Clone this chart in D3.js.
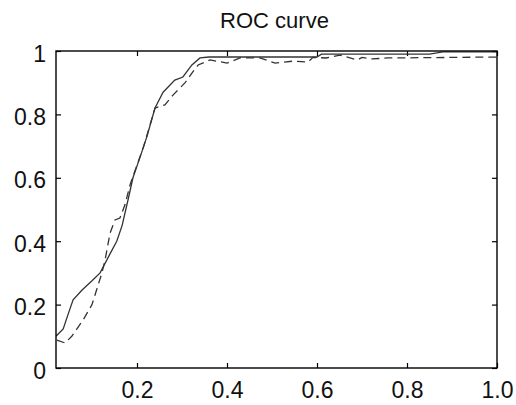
<!DOCTYPE html>
<html>
<head>
<meta charset="utf-8">
<script src="https://cdn.jsdelivr.net/npm/d3@7"></script>
<style>
  body { margin: 0; background: #fff; }
  text { font-family: "Liberation Sans", Arial, sans-serif; }
</style>
</head>
<body>
<script>
let width = 516,
    height = 405;

let margin = { top: 51, bottom: 37, left: 56, right: 19 };

// solid curve
let solidFpr = [0.02, 0.036, 0.047, 0.058, 0.078, 0.10, 0.118, 0.14, 0.155, 0.167, 0.18, 0.191, 0.207, 0.222, 0.24, 0.258, 0.284, 0.302, 0.322, 0.34, 0.36, 0.60, 0.61, 0.85, 0.88, 1.0];
let solidTpr = [0.10, 0.123, 0.17, 0.215, 0.246, 0.275, 0.30, 0.36, 0.40, 0.45, 0.53, 0.60, 0.666, 0.73, 0.82, 0.87, 0.908, 0.918, 0.956, 0.978, 0.981, 0.981, 0.99, 0.99, 0.997, 0.997];

// dashed curve
let dashFpr = [0.022, 0.04, 0.055, 0.08, 0.10, 0.111, 0.122, 0.129, 0.14, 0.151, 0.162, 0.173, 0.185, 0.20, 0.215, 0.24, 0.262, 0.28, 0.307, 0.324, 0.336, 0.362, 0.40, 0.429, 0.473, 0.507, 0.547, 0.58, 0.591, 0.62, 0.651, 0.69, 0.70, 0.722, 0.758, 1.0];
let dashTpr = [0.088, 0.079, 0.10, 0.151, 0.20, 0.25, 0.30, 0.34, 0.425, 0.467, 0.473, 0.514, 0.58, 0.64, 0.70, 0.82, 0.83, 0.861, 0.90, 0.934, 0.956, 0.972, 0.962, 0.978, 0.978, 0.962, 0.968, 0.965, 0.98, 0.978, 0.987, 0.972, 0.98, 0.975, 0.978, 0.981];

let xTicks = [0.2, 0.4, 0.6, 0.8, 1.0];
let xLabels = ["0.2", "0.4", "0.6", "0.8", "1.0"];
let yTicks = [0, 0.2, 0.4, 0.6, 0.8, 1];
let yLabels = ["0", "0.2", "0.4", "0.6", "0.8", "1"];

let svg = d3.select("body")
    .append("svg")
    .attr("width", width)
    .attr("height", height);

let x = d3.scaleLinear()
    .domain([0.02, 1.0])
    .range([margin.left, width - margin.right]);

let y = d3.scaleLinear()
    .domain([0, 1])
    .range([height - margin.bottom, margin.top]);

let x0 = x.range()[0], x1 = x.range()[1];
let y0 = y.range()[0], y1 = y.range()[1];

svg.append("defs").append("clipPath")
    .attr("id", "plot")
    .append("rect")
    .attr("x", x0).attr("y", y1)
    .attr("width", x1 - x0).attr("height", y0 - y1);

// ticks, all inward
function styleAxis(g) {
  g.select(".domain").remove();
  g.selectAll(".tick line").attr("stroke", "#000").attr("stroke-width", 1.2);
  g.selectAll("text").attr("fill", "#111").style("font-size", "23px");
}

svg.append("g")
    .attr("transform", "translate(0," + y0 + ")")
    .call(d3.axisBottom(x).tickValues(xTicks).tickSize(-5).tickPadding(14)
      .tickFormat((d, i) => xLabels[i]))
    .call(styleAxis);

svg.append("g")
    .attr("transform", "translate(0," + y1 + ")")
    .call(d3.axisTop(x).tickValues(xTicks).tickSize(-5).tickFormat(""))
    .call(styleAxis);

svg.append("g")
    .attr("transform", "translate(" + x0 + ",0)")
    .call(d3.axisLeft(y).tickValues(yTicks).tickSize(-5).tickPadding(10)
      .tickFormat((d, i) => yLabels[i]))
    .call(styleAxis)
    .selectAll("text").attr("dy", "0.44em");

svg.append("g")
    .attr("transform", "translate(" + x1 + ",0)")
    .call(d3.axisRight(y).tickValues(yTicks).tickSize(-5).tickFormat(""))
    .call(styleAxis);

let line = d3.line()
    .x(d => x(d[0]))
    .y(d => y(d[1]));

svg.append("path")
    .datum(d3.zip(dashFpr, dashTpr))
    .attr("clip-path", "url(#plot)")
    .attr("d", line)
    .attr("fill", "none")
    .attr("stroke", "#333")
    .attr("stroke-width", 1.3)
    .attr("stroke-dasharray", "8,5");

svg.append("path")
    .datum(d3.zip(solidFpr, solidTpr))
    .attr("clip-path", "url(#plot)")
    .attr("d", line)
    .attr("fill", "none")
    .attr("stroke", "#333")
    .attr("stroke-width", 1.3);

// box
svg.append("rect")
    .attr("x", x0).attr("y", y1)
    .attr("width", x1 - x0).attr("height", y0 - y1)
    .attr("fill", "none")
    .attr("stroke", "#000")
    .attr("stroke-width", 1.4);

svg.append("text")
    .attr("x", (x0 + x1) / 2 - 2)
    .attr("y", 28)
    .style("text-anchor", "middle")
    .style("font-size", "22px")
    .attr("fill", "#111")
    .text("ROC curve");
</script>
</body>
</html>
